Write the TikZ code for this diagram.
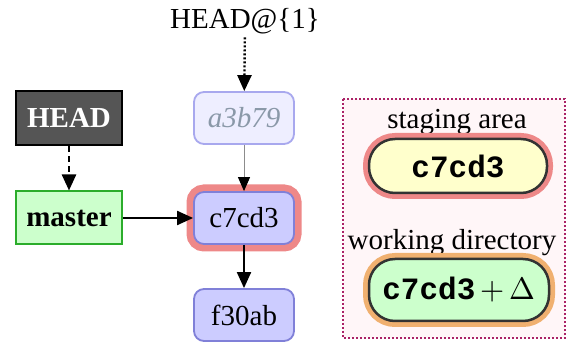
\documentclass[tikz,border=0pt]{standalone}
\usepackage{fontspec}
\usepackage{unicode-math}
\setmainfont{Liberation Serif}
\setmonofont{Liberation Mono}
\usetikzlibrary{arrows.meta}
\definecolor{headfill}{HTML}{555555}
\definecolor{masterfill}{HTML}{CCFFCC}
\definecolor{masterdraw}{HTML}{33CC33}
\definecolor{commitfill}{HTML}{CCCCFF}
\definecolor{commitdraw}{HTML}{8080D8}
\definecolor{oldfill}{HTML}{EEEEFF}
\definecolor{olddraw}{HTML}{A8A8EE}
\definecolor{oldtext}{HTML}{8A98A8}
\definecolor{glowred}{HTML}{EE8888}
\definecolor{gloworange}{HTML}{F0B070}
\definecolor{stagefill}{HTML}{FFFFCC}
\definecolor{workfill}{HTML}{CCFFCC}
\definecolor{boxdraw}{HTML}{AA2266}
\definecolor{boxfill}{HTML}{FFF6F8}
\tikzset{
  x=1pt, y=-1pt,
  txt/.style={font=\fontsize{29}{32}\selectfont},
  refbox/.style={draw=black, line width=2.5pt, fill=headfill, text=white, font=\fontsize{29}{32}\selectfont\bfseries, minimum width=106pt, minimum height=54pt, inner sep=0pt},
  branchbox/.style={draw=masterdraw!85!black, line width=2pt, fill=masterfill, font=\fontsize{29}{32}\selectfont\bfseries, minimum width=106pt, minimum height=53pt, inner sep=0pt},
  commitbox/.style={txt, draw=commitdraw, line width=1.8pt, fill=commitfill, rounded corners=10pt, minimum width=100pt, minimum height=52pt, inner sep=0pt},
  oldcommit/.style={commitbox, draw=olddraw, fill=oldfill, text=oldtext, font=\fontsize{29}{32}\selectfont\itshape},
  glowing/.style={preaction={draw=glowred, line width=15pt, rounded corners=12pt}},
  pill/.style={draw=black!80, line width=2.5pt, rounded corners=26pt, minimum width=178pt, minimum height=54pt, inner sep=0pt, font=\fontsize{31}{34}\selectfont\ttfamily\bfseries},
  arr/.style={-{Triangle[length=16pt,width=14pt]}, line width=2pt},
}
\begin{document}
\begin{tikzpicture}
\useasboundingbox (0,0) rectangle (573,347);
\fill[white] (0,0) rectangle (573,347);
% dotted frame
\draw[boxdraw, fill=boxfill, line width=2pt, dotted] (343,99) rectangle (565,338);
% nodes
\node[txt] (reflog) at (245,21) {HEAD@\{1\}};
\node[refbox] (head) at (69,118) {HEAD};
\node[branchbox] (master) at (69,218) {master};
\node[oldcommit] (a3b79) at (244,118) {a3b79};
\node[commitbox, glowing] (c7cd3) at (244,218) {c7cd3};
\node[commitbox] (f30ab) at (244,315) {f30ab};
\node[txt] (stagelbl) at (457,122) {staging area};
\node[pill, fill=stagefill, preaction={draw=glowred, line width=12pt}] (stage) at (458,166) {c7cd3};
\node[txt] (worklbl) at (452,243) {working directory};
\node[pill, fill=workfill, minimum height=62pt, minimum width=180pt, preaction={draw=gloworange, line width=12pt}] (work) at (459,290) {c7cd3\,$+\,\Delta$};
% connectors
\draw[arr, dotted, line width=2.4pt] (reflog) -- (a3b79);
\draw[arr, dashed, dash pattern=on 6pt off 4pt, line width=2.4pt] (head) -- (master);
\draw[line width=1pt, black!45, -{Triangle[length=14pt,width=12pt,color=black]}] (a3b79) -- (c7cd3);
\draw[arr] (master) -- (c7cd3);
\draw[arr] (c7cd3) -- (f30ab);
\end{tikzpicture}
\end{document}
